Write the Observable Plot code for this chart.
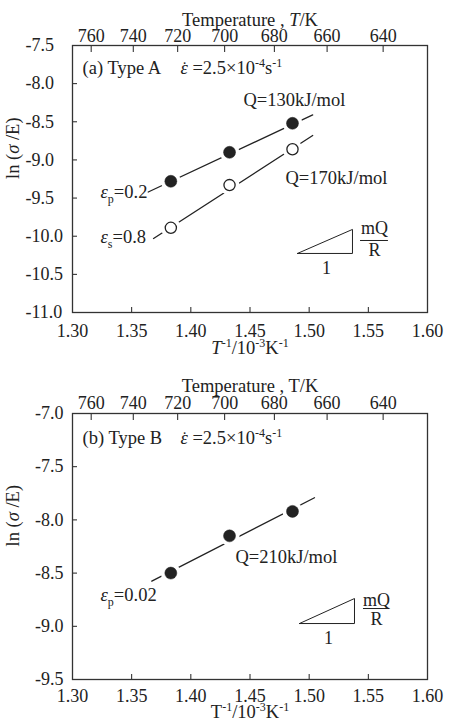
<!DOCTYPE html>
<html><head><meta charset="utf-8">
<script src="https://cdn.jsdelivr.net/npm/d3@7"></script>
<script src="https://cdn.jsdelivr.net/npm/@observablehq/plot@0.6"></script>
<style>
body{margin:0;background:#fff;}
#chart{width:450px;}
#chart svg{display:block;}
</style></head><body><div id="chart"></div>
<script>
// ---- data ----
const invTemp = [1.3831, 1.4327, 1.4859];           // 1000/T (723, 698, 673 K)
const lnA_peak = [-9.28, -8.90, -8.52];             // (a) eps_p = 0.2
const lnA_sat = [-9.89, -9.33, -8.86];              // (a) eps_s = 0.8
const lnB_peak = [-8.50, -8.15, -7.92];             // (b) eps_p = 0.02
const fitA_peak_x = [1.364, 1.503], fitA_peak_y = [-9.42, -8.41];
const fitA_sat_x = [1.3685, 1.503], fitA_sat_y = [-10.03, -8.68];
const fitB_x = [1.367, 1.5045], fitB_y = [-8.576, -7.792];
const xTicks = [1.30, 1.35, 1.40, 1.45, 1.50, 1.55, 1.60];
const tempTicks = [760, 740, 720, 700, 680, 660, 640];
const yTicksA = [-7.5, -8.0, -8.5, -9.0, -9.5, -10.0, -10.5, -11.0];
const yTicksB = [-7.0, -7.5, -8.0, -8.5, -9.0, -9.5];
const labelsA = ["(a) Type A", "ε̇ =2.5×10⁻⁴s⁻¹", "Q=130kJ/mol", "Q=170kJ/mol", "εₚ=0.2", "εₛ=0.8"];
const labelsB = ["(b) Type B", "ε̇ =2.5×10⁻⁴s⁻¹", "Q=210kJ/mol", "εₚ=0.02"];
const slopeLabels = ["mQ", "R", "1"];
const topTitle = "Temperature , T/K";
const bottomTitle = "T⁻¹/10⁻³K⁻¹";
const yTitle = "ln (σ /E)";

const INK = "#222";
const FONT = "Liberation Serif, Times New Roman, serif";

function note(txt, x, y, opts = {}) {
  return Plot.text([txt], {x: [x], y: [y], text: d => d, textAnchor: "start", fontSize: 18.5, fill: INK, ...opts});
}

function panel({height, mt, mb, yDomain, yTicks, yTickPad, yTextAnchor, topPad, botPad, topTitleDy, botTitleDy, marks}) {
  return Plot.plot({
    width: 450, height,
    marginTop: mt, marginBottom: mb, marginLeft: 72, marginRight: 23,
    style: {fontFamily: FONT, fontSize: "18px", color: INK, background: "#fff"},
    x: {domain: [1.30, 1.60]},
    y: {domain: yDomain},
    marks: [
      Plot.axisX(xTicks, {anchor: "bottom", tickSize: -5, tickPadding: botPad, tickFormat: d => d.toFixed(2), label: null, stroke: INK, fill: INK}),
      Plot.axisX(tempTicks.map(t => 1000 / t), {anchor: "top", tickSize: -6, tickPadding: topPad, tickFormat: d => String(Math.round(1000 / d)), label: null, stroke: INK, fill: INK}),
      Plot.axisY(yTicks, {anchor: "left", tickSize: -5, tickPadding: yTickPad, textAnchor: yTextAnchor, tickFormat: d => d.toFixed(1), label: null, stroke: INK, fill: INK}),
      Plot.frame({stroke: "#333", strokeWidth: 1.3}),
      Plot.text([topTitle], {frameAnchor: "top", dy: topTitleDy, text: d => d, fontSize: 18.5, fill: INK}),
      Plot.text([bottomTitle], {frameAnchor: "bottom", dy: botTitleDy, text: d => d, fontSize: 18.5, fill: INK}),
      Plot.text([yTitle], {frameAnchor: "left", dx: -59, rotate: -90, text: d => d, fontSize: 18.5, fill: INK}),
      ...marks
    ]
  });
}

function series(xs, ys) { return xs.map((x, i) => ({x, y: ys[i]})); }

function pointMarks(data, filled) {
  return [
    Plot.dot(data, {x: "x", y: "y", r: 10, fill: "#fff", stroke: null}),
    Plot.dot(data, {x: "x", y: "y", r: filled ? 6 : 5.6, fill: filled ? INK : "#fff", stroke: INK, strokeWidth: filled ? 0.5 : 1.3})
  ];
}

function slopeTriangle(x1, x2, y1, y2, barY, bx1, bx2, mqY, rY, oneX, oneY) {
  const tri = [[x1, y1], [x2, y1], [x2, y2], [x1, y1]];
  const mx = (bx1 + bx2) / 2;
  return [
    Plot.line(tri, {x: d => d[0], y: d => d[1], stroke: INK, strokeWidth: 1}),
    Plot.ruleY([barY], {x1: bx1, x2: bx2, stroke: INK, strokeWidth: 1}),
    Plot.text([slopeLabels[0]], {x: [mx], y: [mqY], text: d => d, fontSize: 18, fill: INK}),
    Plot.text([slopeLabels[1]], {x: [mx], y: [rY], text: d => d, fontSize: 18, fill: INK}),
    Plot.text([slopeLabels[2]], {x: [oneX], y: [oneY], text: d => d, fontSize: 18, fill: INK})
  ];
}

const A_peak = series(invTemp, lnA_peak), A_sat = series(invTemp, lnA_sat), B_peak = series(invTemp, lnB_peak);

const plotA = panel({
  height: 362, mt: 45, mb: 50, yDomain: [-11.0, -7.5], yTicks: yTicksA, yTickPad: 52, yTextAnchor: "start",
  topPad: 10, botPad: 17, topTitleDy: -33, botTitleDy: 41,
  marks: [
    Plot.line(series(fitA_peak_x, fitA_peak_y), {x: "x", y: "y", stroke: INK, strokeWidth: 1.3}),
    Plot.line(series(fitA_sat_x, fitA_sat_y), {x: "x", y: "y", stroke: INK, strokeWidth: 1.3}),
    ...pointMarks(A_peak, true),
    ...pointMarks(A_sat, false),
    note(labelsA[0], 1.3085, -7.80),
    note(labelsA[1], 1.3913, -7.80),
    note(labelsA[2], 1.4445, -8.21),
    note(labelsA[3], 1.480, -9.243),
    note(labelsA[4], 1.3237, -9.427),
    note(labelsA[5], 1.3237, -10.016),
    ...slopeTriangle(1.4901, 1.5366, -10.226, -9.911, -10.056, 1.5434, 1.567, -9.898, -10.187, 1.5146, -10.423)
  ]
});

const plotB = panel({
  height: 364, mt: 51, mb: 47, yDomain: [-9.5, -7.0], yTicks: yTicksB, yTickPad: 14, yTextAnchor: "end",
  topPad: 11, botPad: 15, topTitleDy: -35, botTitleDy: 38,
  marks: [
    Plot.line(series(fitB_x, fitB_y), {x: "x", y: "y", stroke: INK, strokeWidth: 1.3}),
    ...pointMarks(B_peak, true),
    note(labelsB[0], 1.3085, -7.235),
    note(labelsB[1], 1.3913, -7.235),
    note(labelsB[2], 1.4377, -8.353),
    note(labelsB[3], 1.3237, -8.711),
    ...slopeTriangle(1.4918, 1.5383, -8.974, -8.739, -8.833, 1.5459, 1.5679, -8.757, -8.936, 1.5163, -9.115)
  ]
});

// ---- rich text: superscripts, subscripts, italics, dotted epsilon ----
const SUP = {"⁻": "-", "¹": "1", "³": "3", "⁴": "4"};
const SUB = {"ₚ": "p", "ₛ": "s"};
function esc(s) { return s.replace(/&/g, "&amp;").replace(/</g, "&lt;"); }
function richify(str, italicT) {
  const chars = Array.from(str);
  const runs = [];
  for (let i = 0; i < chars.length; i++) {
    const c = chars[i];
    let kind = "n", txt = c;
    if (SUP[c]) { kind = "sup"; txt = SUP[c]; }
    else if (SUB[c]) { kind = "sub"; txt = SUB[c]; }
    else if (c === "ε" && chars[i + 1] === "\u0307") { kind = "edot"; i++; }
    else if (c === "ε" || c === "σ") kind = "it";
    else if (c === "T" && italicT && (chars[i + 1] === "/" || SUP[chars[i + 1]])) kind = "it";
    const last = runs[runs.length - 1];
    if (last && last.kind === kind && kind !== "edot") last.txt += txt;
    else runs.push({kind, txt});
  }
  let out = "", shift = 0, pendingDx = 0;
  for (const r of runs) {
    if (r.kind === "edot") {
      const dy0 = -shift; shift = 0;
      out += `<tspan font-style="italic"${dy0 ? ` dy="${dy0}"` : ""}>ε</tspan>`;
      out += `<tspan dx="-6.2" dy="-1" font-size="17">˙</tspan>`;
      shift = -1; pendingDx = 0.5;
      continue;
    }
    const target = r.kind === "sup" ? -7 : r.kind === "sub" ? 5 : 0;
    const dy = target - shift; shift = target;
    let attrs = dy ? ` dy="${dy}"` : "";
    if (pendingDx) { attrs += ` dx="${pendingDx}"`; pendingDx = 0; }
    if (r.kind === "sup" || r.kind === "sub") attrs += ` font-size="12"`;
    if (r.kind === "it") attrs += ` font-style="italic"`;
    out += `<tspan${attrs}>${esc(r.txt)}</tspan>`;
  }
  return out;
}
function enrich(svg, italicT) {
  svg.querySelectorAll("text").forEach(t => {
    if (t.children.length) return;
    const s = t.textContent;
    if (/[⁻¹³⁴ₚₛεσ]/.test(s) || s === topTitle) t.innerHTML = richify(s, italicT);
  });
}
enrich(plotA, true);
enrich(plotB, false);

const root = document.getElementById("chart");
root.appendChild(plotA);
root.appendChild(plotB);
</script>
</body></html>
